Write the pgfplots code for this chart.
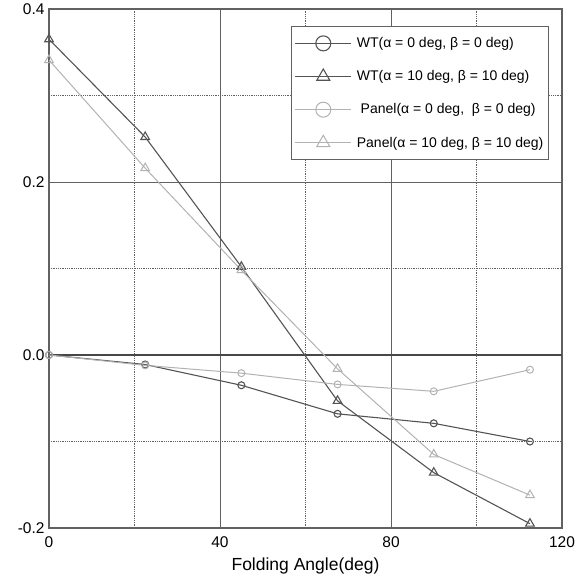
\documentclass[border=0pt]{standalone}
\usepackage{fontspec}
\setmainfont{Liberation Sans}
\usepackage{pgfplots}
\pgfplotsset{compat=1.18}
\definecolor{dk}{gray}{0.33}
\definecolor{lt}{gray}{0.70}
\definecolor{fr}{gray}{0.38}
\begin{document}
\begin{tikzpicture}
\begin{axis}[
  scale only axis,
  width=513pt, height=519pt,
  xmin=0, xmax=120, ymin=-0.2, ymax=0.4,
  xtick={0,40,80,120}, xticklabels={0,40,80,120},
  ytick={-0.2,0,0.2,0.4}, yticklabels={-0.2,0.0,0.2,0.4},
  minor xtick={20,60,100}, minor ytick={-0.1,0.1,0.3},
  major tick length=0pt, minor tick length=0pt,
  grid=both,
  major grid style={line width=0.9pt, color=fr},
  minor grid style={line width=0.8pt, color=fr, densely dotted},
  extra y ticks={0}, extra y tick labels={},
  extra y tick style={major grid style={line width=1.7pt, color=black!72}},
  axis line style={line width=1.3pt, color=fr},
  tick label style={font=\fontsize{15.5}{17}\selectfont},
  xticklabel style={yshift=-5pt},
  yticklabel style={xshift=-1pt},
  xlabel={Folding Angle(deg)},
  xlabel style={font=\fontsize{17.5}{19}\selectfont, yshift=-3pt},
  legend style={at={(1,1)}, anchor=north east, xshift=-13pt, yshift=-17pt,
    draw=fr, line width=1.1pt, font=\fontsize{14}{16}\selectfont,
    row sep=17.5pt, inner ysep=9pt, inner xsep=3pt,
    /tikz/every odd column/.append style={column sep=3pt}},
  legend cell align=left,
  legend image code/.code={\draw[mark repeat=2,mark phase=2,#1,mark size=7.5pt] plot coordinates {(0pt,0pt) (28pt,0pt) (56pt,0pt)};},
]
\addplot[dk, line width=1.1pt, mark=o, mark size=3.5pt, mark options={fill=white}] coordinates {
(0,0) (22.5,-0.011) (45,-0.035) (67.5,-0.068) (90,-0.079) (112.5,-0.100)};
\addlegendentry{WT(α = 0 deg, β = 0 deg)}
\addplot[dk, line width=1.1pt, mark=triangle, mark size=5pt, mark options={fill=white}] coordinates {
(0,0.365) (22.5,0.252) (45,0.102) (67.5,-0.053) (90,-0.136) (112.5,-0.195)};
\addlegendentry{WT(α = 10 deg, β = 10 deg)}
\addplot[lt, line width=1pt, mark=o, mark size=3.5pt, mark options={fill=white}] coordinates {
(0,0) (22.5,-0.012) (45,-0.021) (67.5,-0.034) (90,-0.042) (112.5,-0.017)};
\addlegendentry{\ Panel(α = 0 deg,\ \ β = 0 deg)}
\addplot[lt, line width=1pt, mark=triangle, mark size=5pt, mark options={fill=white}] coordinates {
(0,0.341) (22.5,0.216) (45,0.098) (67.5,-0.016) (90,-0.115) (112.5,-0.162)};
\addlegendentry{Panel(α = 10 deg, β = 10 deg)}
\end{axis}
\pgfresetboundingbox
\path ([xshift=-49pt,yshift=-52pt]current axis.south west) rectangle ([xshift=24pt,yshift=9pt]current axis.north east);
\end{tikzpicture}
\end{document}
